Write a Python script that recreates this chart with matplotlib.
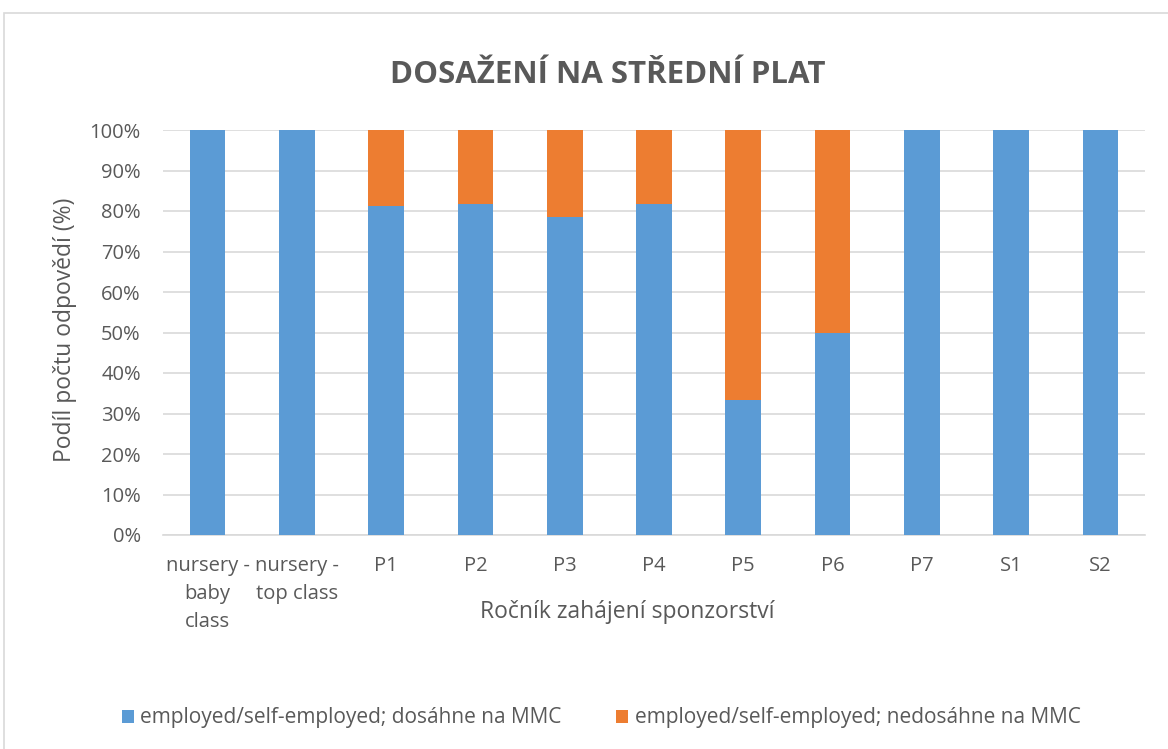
import numpy as np
import matplotlib.pyplot as plt
from matplotlib.patches import Rectangle
from matplotlib.ticker import PercentFormatter

# category labels and shares (%)
categories = ["nursery -\nbaby\nclass", "nursery -\ntop class", "P1", "P2", "P3",
              "P4", "P5", "P6", "P7", "S1", "S2"]
reach = [100, 100, 81.25, 81.8, 78.6, 81.8, 33.3, 50, 100, 100, 100]
no_reach = [0, 0, 18.75, 18.2, 21.4, 18.2, 66.7, 50, 0, 0, 0]

label_reach = "employed/self-employed; dosáhne na MMC"
label_no = "employed/self-employed; nedosáhne na MMC"

blue = "#5B9BD5"
orange = "#ED7D31"
txt = "#595959"

plt.rcParams['font.family'] = ['Open Sans', 'DejaVu Sans']

fig = plt.figure(figsize=(11.68, 7.49), dpi=100)
# chart frame (only top and left edges fall inside the image)
top = 1 - 13 / 749
fig.patches.append(Rectangle((4 / 1168, -0.2), 1.5, top + 0.2,
                             transform=fig.transFigure, fill=False,
                             edgecolor="#D9D9D9", linewidth=1.2))

ax = fig.add_axes([163 / 1168, 1 - 535 / 749, (1145 - 163) / 1168, (535 - 130) / 749])
x = np.arange(len(categories))
ax.bar(x, reach, width=0.4, color=blue, label=label_reach, zorder=3)
ax.bar(x, no_reach, width=0.4, bottom=reach, color=orange, label=label_no, zorder=3)

ax.set_xlim(-0.5, len(categories) - 0.5)
ax.set_ylim(0, 100)
ax.set_yticks(np.arange(0, 101, 10))
ax.yaxis.set_major_formatter(PercentFormatter(decimals=0))
ax.set_xticks(x)
ax.set_xticklabels(categories, fontsize=14.5, color=txt, linespacing=1.55)
ax.tick_params(axis='y', labelsize=14.5, labelcolor=txt, length=0, pad=16)
ax.tick_params(axis='x', length=0, pad=15)
ax.grid(axis='y', color="#D9D9D9", linewidth=1.2, zorder=0)
for s in ["top", "right", "left"]:
    ax.spines[s].set_visible(False)
ax.spines["bottom"].set_color("#D9D9D9")
ax.spines["bottom"].set_linewidth(1.2)

fig.text(65 / 1168, 1 - 330 / 749, "Podíl počtu odpovědí (%)", fontsize=16.5,
         color=txt, ha='center', va='center', rotation=90)
fig.text(627 / 1168, 1 - 612 / 749, "Ročník zahájení sponzorství", fontsize=16.5,
         color=txt, ha='center', va='center')
fig.text(608 / 1168, 1 - 75 / 749, "DOSAŽENÍ NA STŘEDNÍ PLAT", fontsize=22.5,
         fontweight='bold', color=txt, ha='center', va='center')

fig.legend(loc='center', bbox_to_anchor=(601 / 1168, 1 - 718 / 749), ncol=2,
           frameon=False, fontsize=15, labelcolor=txt, handlelength=0.6,
           handleheight=0.6, handletextpad=0.3, columnspacing=2.6)

fig.savefig("out.png", dpi=100)
